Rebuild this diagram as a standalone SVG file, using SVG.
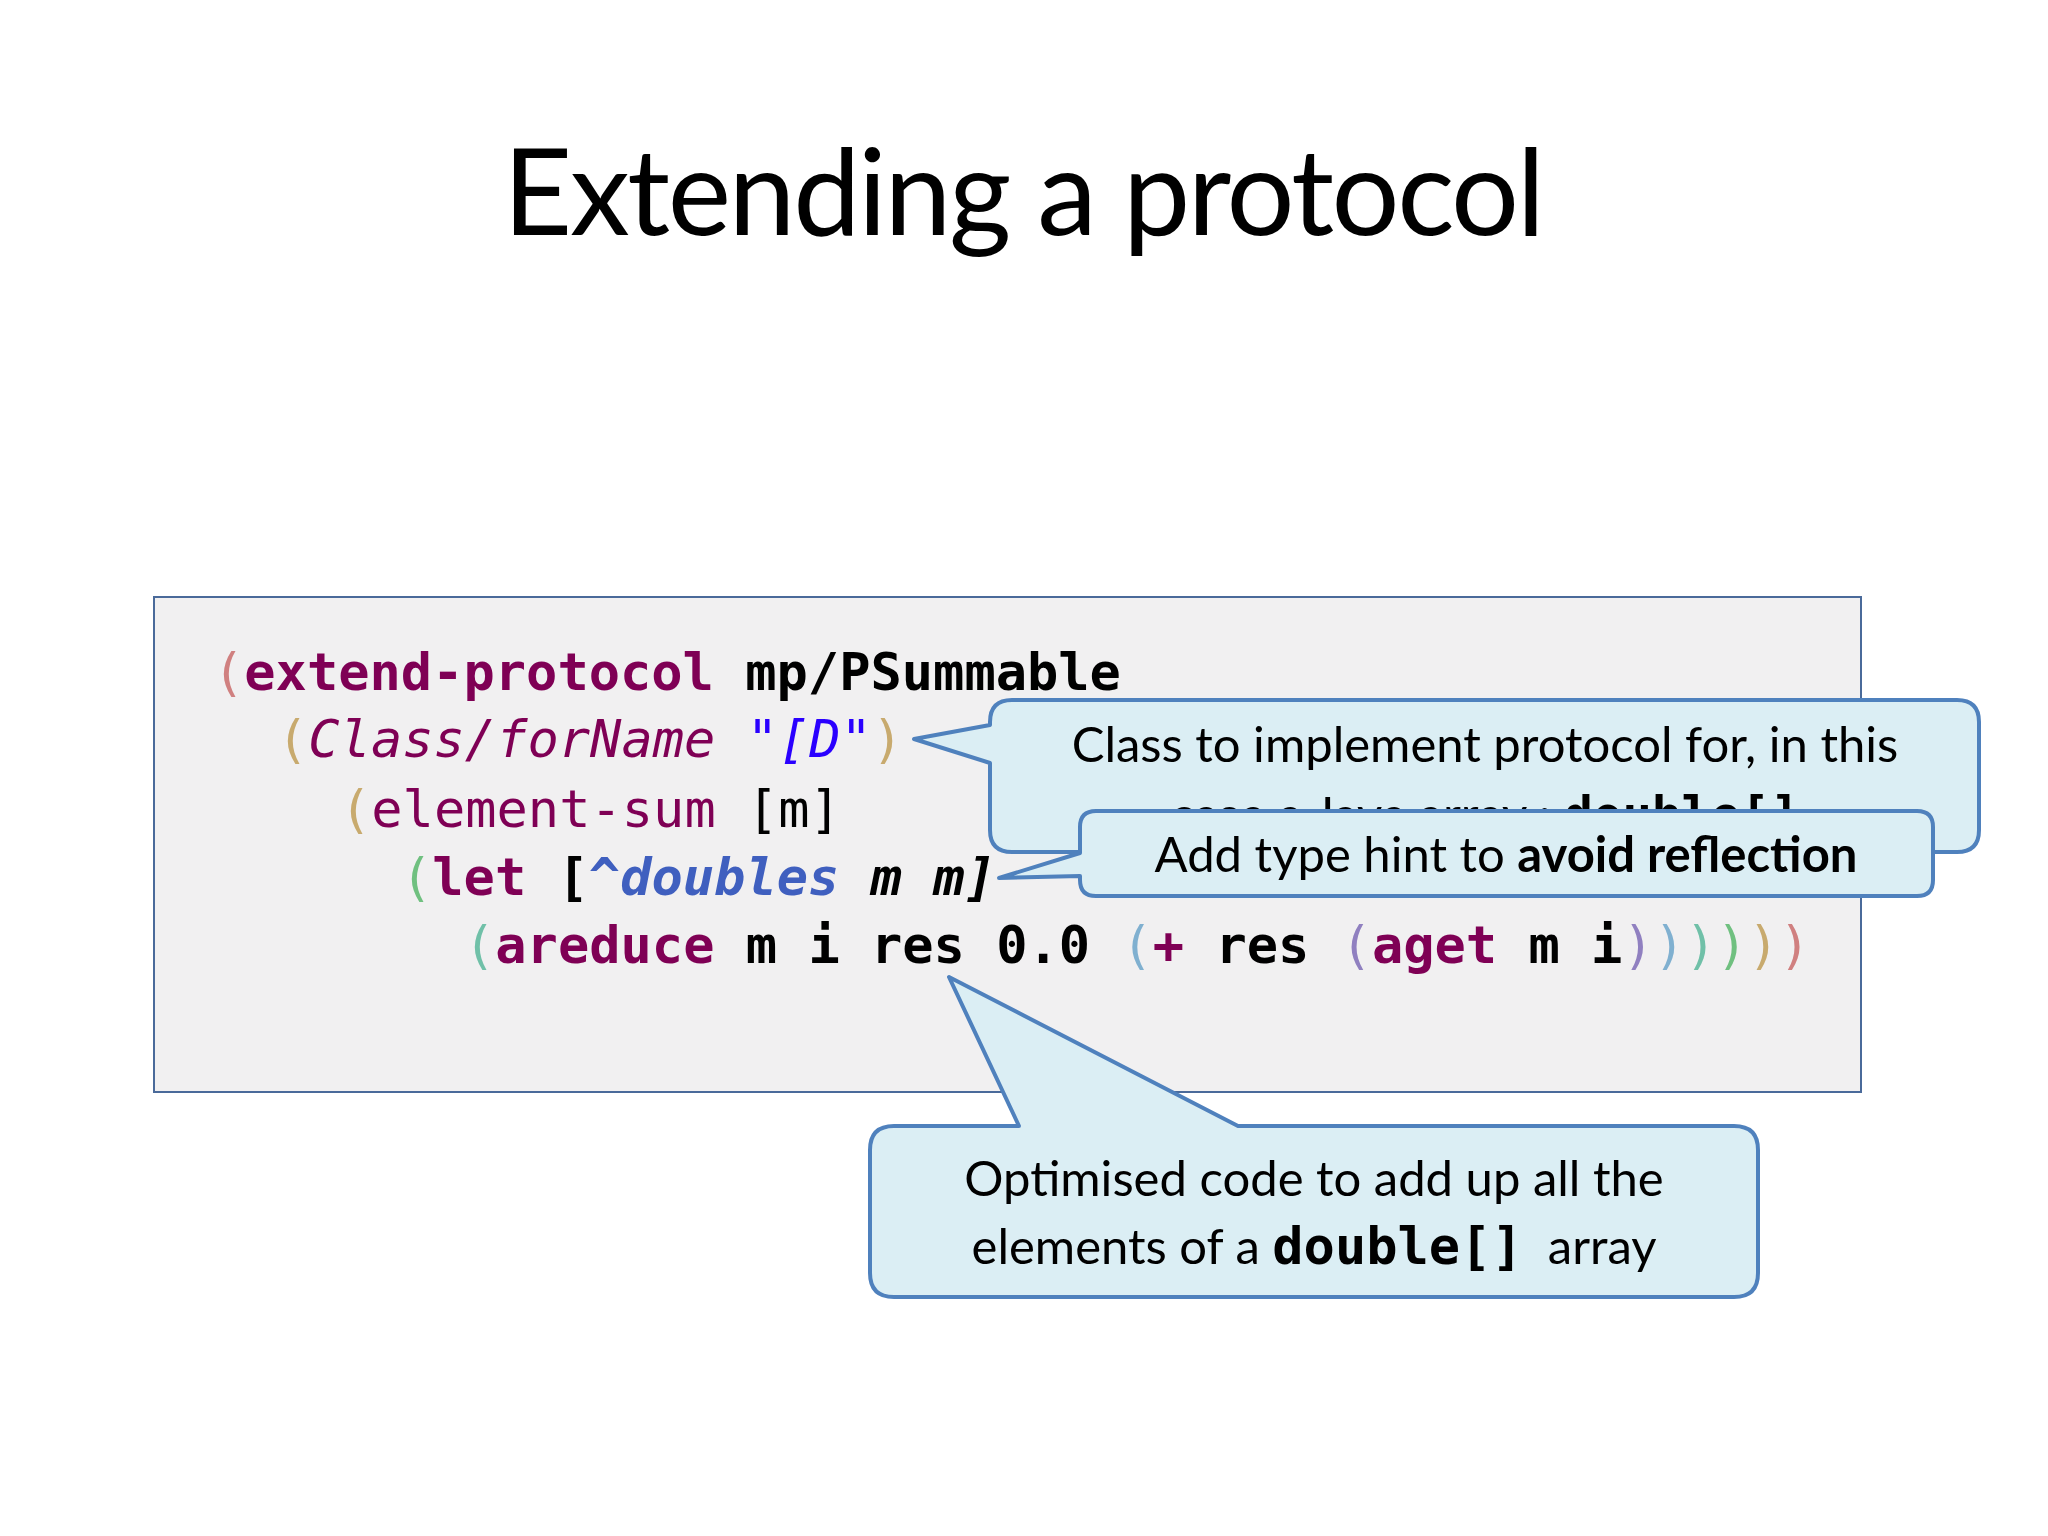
<svg xmlns="http://www.w3.org/2000/svg" width="2048" height="1536" viewBox="0 0 2048 1536">
<style>
.code{font-family:"DejaVu Sans Mono","Liberation Mono",monospace;font-size:52px}
.b{font-weight:bold}.i{font-style:italic}
.kw{fill:#7f0055}.blk{fill:#000}.str{fill:#2a00ff}.hint{fill:#3f5fbf}
.call{fill:#dbeef4;stroke:#4f81bd;stroke-width:4;stroke-linejoin:round}
.ct{font-family:Lato,"Open Sans",sans-serif;font-size:49px;fill:#000}
</style>
<rect width="2048" height="1536" fill="#fff"/>
<text x="1024" y="235" text-anchor="middle" font-family="Lato,'Open Sans',sans-serif" font-size="120" textLength="1042" fill="#000">Extending a protocol</text>
<g id="codebox">
<rect x="154" y="597" width="1707" height="495" fill="#f1f0f1" stroke="#4a6a9a" stroke-width="2"/>
<text class="code" x="213" y="690" xml:space="preserve"><tspan fill="#d08080">(</tspan><tspan class="b kw">extend-protocol</tspan><tspan class="b blk"> mp/PSummable</tspan></text>
<text class="code" x="277" y="757" xml:space="preserve"><tspan fill="#c8aa6e">(</tspan><tspan class="i kw">Class/forName</tspan> <tspan class="i str">"[D"</tspan><tspan fill="#c8aa6e">)</tspan></text>
<text class="code" x="340" y="827" xml:space="preserve"><tspan fill="#c8aa6e">(</tspan><tspan class="kw">element-sum</tspan><tspan class="blk"> [m]</tspan></text>
<text class="code" x="401" y="895" xml:space="preserve"><tspan fill="#70c080">(</tspan><tspan class="b kw">let</tspan><tspan class="b blk"> [</tspan><tspan class="b i hint">^doubles</tspan><tspan class="b i blk"> m m]</tspan></text>
<text class="code" x="464" y="963" xml:space="preserve"><tspan fill="#70c0a8">(</tspan><tspan class="b kw">areduce</tspan><tspan class="b blk"> m i res 0.0 </tspan><tspan fill="#80b0d0">(</tspan><tspan class="b kw">+</tspan><tspan class="b blk"> res </tspan><tspan fill="#9080c0">(</tspan><tspan class="b kw">aget</tspan><tspan class="b blk"> m i</tspan><tspan fill="#9080c0">)</tspan><tspan fill="#80b0d0">)</tspan><tspan fill="#70c0a8">)</tspan><tspan fill="#70c080">)</tspan><tspan fill="#c8aa6e">)</tspan><tspan fill="#d08080">)</tspan></text>
</g>
<g id="callout1">
<path class="call" d="M1012,700 H1957 Q1979,700 1979,722 V830 Q1979,852 1957,852 H1012 Q990,852 990,830 V763 L914,739 L990,725 V722 Q990,700 1012,700 Z"/>
<text class="ct" x="1485" y="762" text-anchor="middle">Class to implement protocol for, in this</text>
<text class="ct" x="1485" y="832" text-anchor="middle">case a Java array : <tspan font-family="'DejaVu Sans Mono',monospace" font-weight="bold">double[]</tspan></text>
</g>
<g id="callout2">
<path class="call" d="M1096,811 H1917 Q1933,811 1933,827 V880 Q1933,896 1917,896 H1096 Q1080,896 1080,880 V876 L999,878 L1080,853 V827 Q1080,811 1096,811 Z"/>
<text class="ct" x="1506" y="872" text-anchor="middle">Add type hint to <tspan font-weight="bold">avoid reflection</tspan></text>
</g>
<g id="callout3">
<path class="call" d="M894,1126 H1019 L949,977 L1238,1126 H1734 Q1758,1126 1758,1150 V1273 Q1758,1297 1734,1297 H894 Q870,1297 870,1273 V1150 Q870,1126 894,1126 Z"/>
<text class="ct" x="1314" y="1196" text-anchor="middle">Optimised code to add up all the</text>
<text class="ct" x="1314" y="1264" text-anchor="middle" xml:space="preserve">elements of a <tspan font-family="'DejaVu Sans Mono',monospace" font-weight="bold" font-size="52">double[]</tspan>  array</text>
</g>
</svg>
